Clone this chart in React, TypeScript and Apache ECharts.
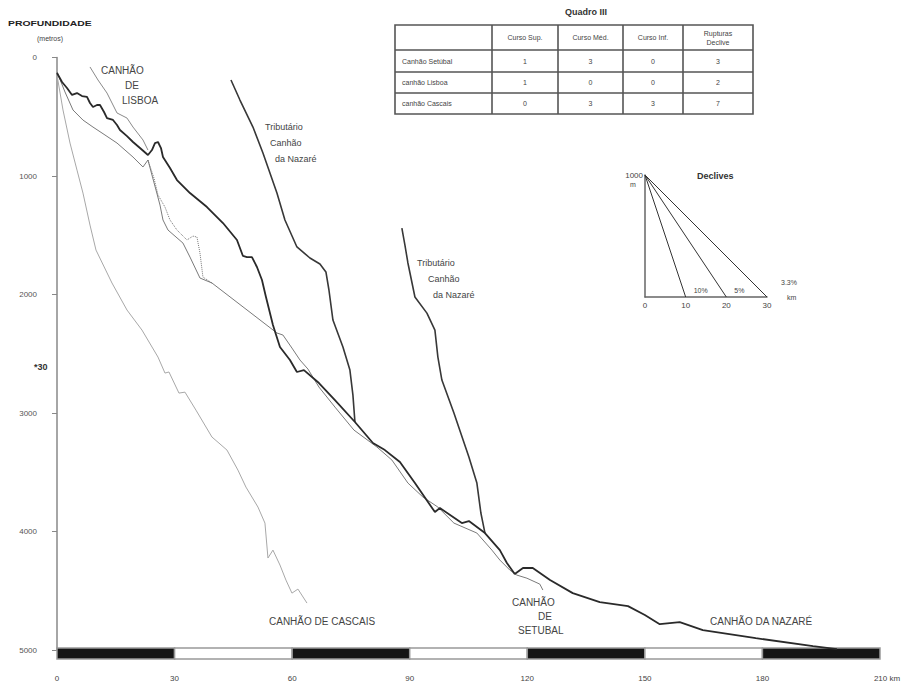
import React, { useEffect, useRef } from 'react';
import * as echarts from 'echarts';

// ---------- data (km, depth in metres) ----------
const xTickLabels = ['0', '30', '60', '90', '120', '150', '180', '210 km'];
const depthTicks = [0, 1000, 2000, 3000, 4000, 5000];

const nazare: number[][] = [
  [0, 131], [1.28, 207], [2.55, 257], [3.83, 316], [5.1, 300], [6.38, 325], [7.65, 333],
  [8.42, 384], [9.18, 418], [10.2, 401], [10.97, 401], [12.0, 460], [12.76, 511], [14.29, 527],
  [15.31, 570], [16.07, 612], [17.86, 663], [19.39, 713], [21.17, 764], [23.21, 823],
  [24.23, 781], [25.0, 722], [25.77, 713], [26.53, 764], [27.04, 840], [28.83, 933],
  [30.61, 1034], [33.93, 1144], [38.27, 1262], [42.35, 1397], [45.92, 1540], [47.45, 1675],
  [48.47, 1684], [49.74, 1684], [51.02, 1768], [52.3, 1878], [53.32, 2021], [55.1, 2258],
  [56.89, 2443], [59.44, 2553], [61.22, 2654], [63.0, 2638], [66.84, 2747], [70.92, 2891],
  [76.02, 3076], [80.61, 3253], [83.67, 3313], [87.5, 3414], [91.33, 3591], [96.43, 3836],
  [97.7, 3802], [103.3, 3929], [105.1, 3912], [109.2, 4013], [113.0, 4157], [114.8, 4266],
  [116.8, 4359], [118.9, 4308], [121.4, 4308], [125.8, 4410], [131.6, 4520], [138.5, 4596],
  [145.7, 4630], [150.0, 4705], [153.8, 4782], [158.9, 4765], [164.8, 4832], [178.3, 4900],
  [192.9, 4967], [199.0, 4993],
];

const tributario1: number[][] = [
  [44.39, 190], [46.68, 359], [50.0, 587], [52.55, 806], [56.12, 1144], [58.16, 1371],
  [61.22, 1599], [64.54, 1692], [67.09, 1743], [68.62, 1810], [69.39, 1962], [70.41, 2216],
  [72.96, 2443], [74.74, 2638], [75.51, 2849], [76.02, 3076],
];

const tributario2: number[][] = [
  [88.0, 1439], [88.78, 1583], [89.54, 1734], [91.33, 2021], [94.39, 2157], [96.43, 2300],
  [97.19, 2528], [98.21, 2722], [101.28, 3000], [105.1, 3372], [107.14, 3591], [108.16, 3844],
  [109.2, 4013],
];

const setubal: number[][] = [
  [0, 122], [2.04, 291], [4.08, 443], [6.63, 528], [9.18, 587], [12.24, 654], [15.31, 722],
  [19.39, 840], [21.94, 924], [23.21, 865], [24.23, 992], [25.26, 1118], [26.28, 1245],
  [27.04, 1371], [28.32, 1456], [32.14, 1566], [33.93, 1684], [36.48, 1861], [39.54, 1903],
  [56.12, 2325], [57.65, 2342], [59.95, 2452], [62.0, 2553], [64.03, 2629], [66.84, 2781],
  [70.92, 2950], [75.77, 3144], [81.63, 3287], [85.46, 3397], [89.54, 3591], [93.37, 3709],
  [97.19, 3794], [101.28, 3929], [107.14, 4013], [110.97, 4157], [113.0, 4241], [115.56, 4326],
  [117.35, 4368], [119.9, 4394], [123.2, 4444], [123.98, 4494],
];

const setubalDotted: number[][] = [
  [23.21, 865], [24.74, 1017], [25.77, 1160], [27.55, 1262], [28.83, 1371], [30.61, 1456],
  [33.16, 1540], [34.69, 1507], [35.71, 1515], [36.48, 1650], [37.24, 1853], [39.54, 1903],
];

const lisboa: number[][] = [
  [8.42, 80], [10.46, 190], [12.76, 300], [15.31, 468], [17.86, 511], [19.39, 587],
  [21.94, 696], [23.21, 781],
];

const cascais: number[][] = [
  [0, 148], [1.53, 443], [3.32, 722], [5.1, 950], [6.63, 1144], [8.42, 1414], [9.95, 1625],
  [14.03, 1903], [17.86, 2131], [21.68, 2300], [25.77, 2528], [27.55, 2663], [28.57, 2654],
  [31.12, 2832], [32.65, 2824], [35.46, 2976], [39.54, 3203], [41.33, 3254], [43.37, 3313],
  [46.17, 3482], [48.21, 3625], [51.28, 3794], [53.06, 3929], [53.83, 4224], [55.1, 4157],
  [56.89, 4283], [58.42, 4410], [59.95, 4520], [61.48, 4486], [63.78, 4604],
];

const scaleSegments: number[][] = [
  [0, 30, 1], [30, 60, 0], [60, 90, 1], [90, 120, 0], [120, 150, 1], [150, 180, 0], [180, 210, 1],
];

const declivesKm = [10, 20, 30];
const declivesLabels = ['10%', '5%', '3.3%'];
const declivesTicks = [0, 10, 20, 30];

const quadroHeaders = ['', 'Curso Sup.', 'Curso Méd.', 'Curso Inf.', 'Rupturas\nDeclive'];
const quadroRows = ['Canhão Setúbal', 'canhão Lisboa', 'canhão Cascais'];
const quadroValues = [
  [1, 3, 0, 3],
  [1, 0, 0, 2],
  [0, 3, 3, 7],
];

// ---------- layout ----------
const FONT = 'Liberation Sans, Arial, sans-serif';
const TXT = '#444';

function buildTable(): any[] {
  const cols = [395, 492, 558, 623, 683, 753];
  const rows = [25, 50, 72, 93, 114];
  const els: any[] = [];
  const stroke = { stroke: '#555', lineWidth: 1.6 };
  els.push({
    type: 'rect',
    shape: { x: cols[0], y: rows[0], width: cols[5] - cols[0], height: rows[4] - rows[0] },
    style: { fill: 'none', ...stroke },
  });
  for (let i = 1; i < cols.length - 1; i++) {
    els.push({ type: 'line', shape: { x1: cols[i], y1: rows[0], x2: cols[i], y2: rows[4] }, style: stroke });
  }
  for (let j = 1; j < rows.length - 1; j++) {
    els.push({ type: 'line', shape: { x1: cols[0], y1: rows[j], x2: cols[5], y2: rows[j] }, style: stroke });
  }
  els.push({
    type: 'text', x: 586, y: 12,
    style: { text: 'Quadro III', fontSize: 9, fontWeight: 'bold', fill: '#333', textAlign: 'center', textVerticalAlign: 'middle', fontFamily: FONT },
  });
  quadroHeaders.forEach((h, i) => {
    if (!h) return;
    els.push({
      type: 'text', x: (cols[i] + cols[i + 1]) / 2, y: (rows[0] + rows[1]) / 2,
      style: { text: h, fontSize: 7, lineHeight: 9, fill: TXT, textAlign: 'center', textVerticalAlign: 'middle', fontFamily: FONT },
    });
  });
  quadroRows.forEach((r, j) => {
    const cy = (rows[j + 1] + rows[j + 2]) / 2;
    els.push({
      type: 'text', x: cols[0] + 7, y: cy,
      style: { text: r, fontSize: 7, fill: TXT, textAlign: 'left', textVerticalAlign: 'middle', fontFamily: FONT },
    });
    quadroValues[j].forEach((v, i) => {
      els.push({
        type: 'text', x: (cols[i + 1] + cols[i + 2]) / 2, y: cy,
        style: { text: String(v), fontSize: 7, fill: TXT, textAlign: 'center', textVerticalAlign: 'middle', fontFamily: FONT },
      });
    });
  });
  return els;
}

function txt(text: string, x: number, y: number, opts: any = {}) {
  const { scaleX, ...rest } = opts;
  return {
    type: 'text', x, y, scaleX: scaleX || 1,
    style: { text, fontSize: 10, fill: TXT, textAlign: 'left', textVerticalAlign: 'middle', fontFamily: FONT, ...rest },
  };
}

function buildLabels(): any[] {
  return [
    txt('PROFUNDIDADE', 8, 23, { fontSize: 8, fontWeight: 'bold', fill: '#222', scaleX: 1.3 }),
    txt('(metros)', 37, 38, { fontSize: 7 }),
    txt('*30', 34, 367, { fontSize: 9, fontWeight: 'bold', fill: '#333' }),
    txt('CANHÃO', 101, 70),
    txt('DE', 125, 85),
    txt('LISBOA', 122, 100),
    txt('Tributário', 265, 127, { fontSize: 9 }),
    txt('Canhão', 270, 143, { fontSize: 9 }),
    txt('da Nazaré', 275, 159, { fontSize: 9 }),
    txt('Tributário', 417, 263, { fontSize: 9 }),
    txt('Canhão', 428, 279, { fontSize: 9 }),
    txt('da Nazaré', 433, 295, { fontSize: 9 }),
    txt('CANHÃO DE CASCAIS', 269, 621),
    txt('CANHÃO', 512, 602),
    txt('DE', 538, 616),
    txt('SETUBAL', 518, 630),
    txt('CANHÃO DA NAZARÉ', 710, 621),
    txt('Declives', 697, 176, { fontSize: 9, fontWeight: 'bold', fill: '#333' }),
    txt('m', 630, 184, { fontSize: 7 }),
  ];
}

function lineSeries(name: string, data: number[][], color: string, width: number, type: string = 'solid') {
  return {
    name, type: 'line', data, symbol: 'none', showSymbol: false, smooth: false,
    lineStyle: { color, width, type }, xAxisIndex: 0, yAxisIndex: 0, silent: true, z: 3,
  };
}

export default function App() {
  const ref = useRef<HTMLDivElement>(null);

  useEffect(() => {
    if (!ref.current) return;
    const chart = echarts.init(ref.current, undefined, { renderer: 'svg' });

    const declivesSeries = declivesKm.map((km, i) => ({
      name: 'declive ' + declivesLabels[i],
      type: 'line',
      xAxisIndex: 1,
      yAxisIndex: 1,
      symbol: 'none',
      data: [[0, 1000], [km, 0]],
      lineStyle: { color: '#333', width: 1 },
      endLabel: {
        show: true,
        formatter: declivesLabels[i],
        fontSize: 7,
        color: TXT,
        fontFamily: FONT,
        offset: i === 2 ? [6, -15] : [0, -7],
      },
      silent: true,
    }));

    chart.setOption({
      animation: false,
      backgroundColor: '#fff',
      textStyle: { fontFamily: FONT },
      grid: [
        { left: 57, top: 57.5, width: 823, height: 592.5 },
        { left: 645, top: 175, width: 122, height: 122 },
      ],
      xAxis: [
        {
          type: 'value', gridIndex: 0, min: 0, max: 210, interval: 30,
          axisLine: { show: false }, axisTick: { show: false }, splitLine: { show: false },
          axisLabel: {
            fontSize: 8, color: TXT, margin: 24,
            formatter: (v: number) => {
              const s = xTickLabels[Math.round(v / 30)] ?? String(v);
              return v === 210 ? '{end|' + s + '}' : s;
            },
            rich: { end: { fontSize: 8, color: TXT, padding: [0, 0, 0, 14] } },
          },
        },
        {
          type: 'value', gridIndex: 1, min: 0, max: 30, interval: 10,
          axisLine: { show: true, onZero: false, lineStyle: { color: '#666', width: 1.5 } },
          axisTick: { show: false }, splitLine: { show: false },
          axisLabel: { fontSize: 8, color: TXT, margin: 4, formatter: (v: number) => (declivesTicks.includes(v) ? String(v) : '') },
          name: 'km', nameLocation: 'end', nameGap: 20,
          nameTextStyle: { fontSize: 7, color: TXT, verticalAlign: 'middle' },
        },
      ],
      yAxis: [
        {
          type: 'value', gridIndex: 0, inverse: true, min: 0, max: 5000, interval: 1000,
          axisLine: { show: true, lineStyle: { color: '#888', width: 1.5 } },
          axisTick: { show: true, length: 5, lineStyle: { color: '#888' } },
          splitLine: { show: false },
          axisLabel: { fontSize: 8, color: '#555', margin: 20,
            formatter: (v: number) => (depthTicks.includes(v) ? String(v) : '') },
        },
        {
          type: 'value', gridIndex: 1, min: 0, max: 1000, interval: 1000,
          axisLine: { show: true, onZero: false, lineStyle: { color: '#666', width: 1.5 } },
          axisTick: { show: false }, splitLine: { show: false },
          axisLabel: { fontSize: 8, color: TXT, margin: 2, formatter: (v: number) => (v === 1000 ? '1000' : '') },
        },
      ],
      series: [
        {
          name: 'escala',
          type: 'custom',
          xAxisIndex: 0,
          yAxisIndex: 0,
          clip: false,
          silent: true,
          data: scaleSegments,
          encode: { x: [0, 1] },
          renderItem: (params: any, api: any) => {
            const p0 = api.coord([api.value(0), 5000]);
            const p1 = api.coord([api.value(1), 5000]);
            const black = api.value(2) === 1;
            return {
              type: 'rect',
              shape: { x: p0[0], y: p0[1] - 2, width: p1[0] - p0[0], height: 11 },
              style: { fill: black ? '#151515' : '#ffffff', stroke: '#999', lineWidth: 1.5 },
            };
          },
        },
        lineSeries('Canhão de Cascais', cascais, '#a8a8a8', 1),
        lineSeries('Canhão de Lisboa', lisboa, '#8a8a8a', 1),
        lineSeries('Canhão de Setúbal', setubal, '#7a7a7a', 1),
        lineSeries('Canhão de Setúbal (tracejado)', setubalDotted, '#777', 1, 'dotted'),
        lineSeries('Tributário 1', tributario1, '#383838', 1.6),
        lineSeries('Tributário 2', tributario2, '#383838', 1.6),
        lineSeries('Canhão da Nazaré', nazare, '#2a2a2a', 1.8),
        ...declivesSeries,
      ],
      graphic: [...buildTable(), ...buildLabels()],
    });

    return () => chart.dispose();
  }, []);

  return (
    <div
      ref={ref}
      style={{ position: 'fixed', left: 0, top: 0, width: 912, height: 689, background: '#fff' }}
    />
  );
}
